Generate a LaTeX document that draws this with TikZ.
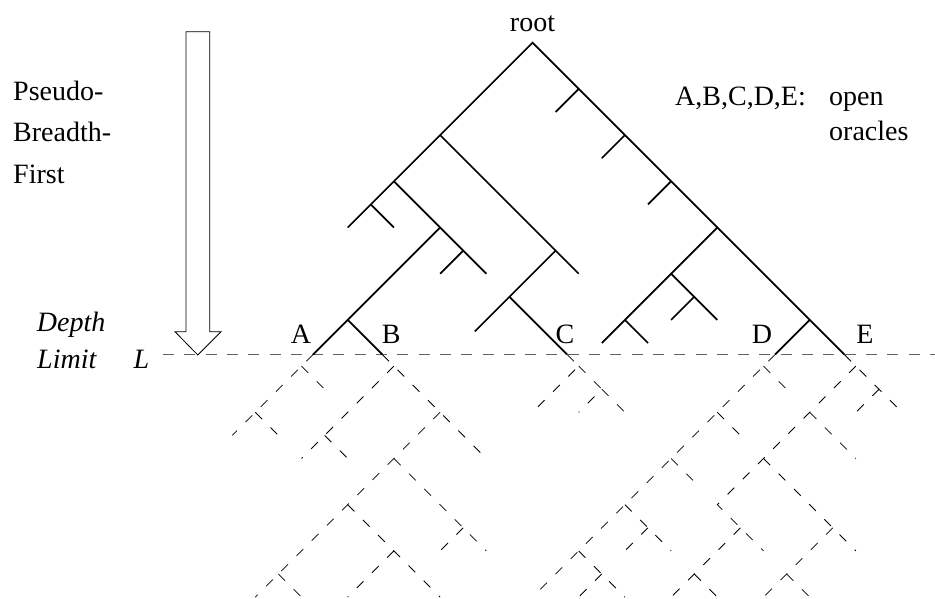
\documentclass[tikz,border=0pt]{standalone}
\usepackage{fontspec}
\setmainfont{Liberation Serif}
\begin{document}
\begin{tikzpicture}[
  txt/.style={inner sep=0pt, anchor=base west, font=\fontsize{28}{34}\selectfont},
  lbl/.style={inner sep=0pt, anchor=base, font=\fontsize{28}{34}\selectfont},
  solidbr/.style={line width=1.7pt, line cap=butt, line join=miter},
  dashbr/.style={line width=0.8pt, dash pattern=on 9.5pt off 12pt},
  limitline/.style={line width=1.6pt, black!62, dash pattern=on 11pt off 10.3pt},
  bigarrow/.style={draw, line width=0.8pt, fill=white, line join=miter}
]
\useasboundingbox (0,0) rectangle (935pt,-599pt);

% depth limit line
\coordinate (limL) at (163pt,-354.5pt);
\coordinate (limR) at (935pt,-354.5pt);
\draw[limitline] (limL) -- (limR);

% big arrow
\draw[bigarrow] (186pt,-31.7pt) -- (209.7pt,-31.7pt) -- (209.7pt,-331.7pt) -- (221pt,-331.7pt)
  -- (197.8pt,-355pt) -- (175pt,-331.7pt) -- (186pt,-331.7pt) -- cycle;

% texts
\node[txt] (t1) at (13pt,-101pt) {Pseudo-};
\node[txt] (t2) at (13pt,-142pt) {Breadth-};
\node[txt] (t3) at (13pt,-183pt) {First};
\node[txt] (d1) at (36.7pt,-331.7pt) {\itshape Depth};
\node[txt] (d2) at (37pt,-368.3pt) {\itshape Limit};
\node[txt] (Lsym) at (133.3pt,-368.3pt) {\itshape L};
\node[lbl] (root) at (532.5pt,-31.7pt) {root};
\node[txt] (legend) at (675pt,-106pt) {A,B,C,D,E:};
\node[txt] (open) at (829pt,-106pt) {open};
\node[txt] (orac) at (829pt,-141pt) {oracles};
\node[lbl] (A) at (301pt,-343pt) {A};
\node[lbl] (B) at (391.3pt,-343pt) {B};
\node[lbl] (C) at (565pt,-343pt) {C};
\node[lbl] (D) at (762pt,-343pt) {D};
\node[lbl] (E) at (865pt,-343pt) {E};

\begin{scope}[shift={(532.5pt,-42.7pt)}, x=23.1pt, y=-23.1pt]
% solid part of the tree
\draw[solidbr] (-8,8) -- (0,0) -- (13.5,13.5);
\draw[solidbr] (-7,7) -- (-6,8);
\draw[solidbr] (-6,6) -- (-2,10);
\draw[solidbr] (-3,9) -- (-4,10);
\draw[solidbr] (-4,8) -- (-9.5,13.5);
\draw[solidbr] (-8,12) -- (-6.5,13.5);
\draw[solidbr] (-4,4) -- (2,10);
\draw[solidbr] (1,9) -- (-2.5,12.5);
\draw[solidbr] (-1,11) -- (1.5,13.5);
\draw[solidbr] (2,2) -- (1,3);
\draw[solidbr] (4,4) -- (3,5);
\draw[solidbr] (6,6) -- (5,7);
\draw[solidbr] (8,8) -- (3,13);
\draw[solidbr] (6,10) -- (8,12);
\draw[solidbr] (7,11) -- (6,12);
\draw[solidbr] (4,12) -- (5,13);
\draw[solidbr] (12,12) -- (10.5,13.5);

% dashed subtrees below A
\draw[dashbr] (-9.5,13.5) -- (-10,14) -- (-12,16) -- (-13,17);
\draw[dashbr] (-10,14) -- (-9,15);
\draw[dashbr] (-12,16) -- (-11,17);
% below B
\draw[dashbr] (-6.5,13.5) -- (-6,14) -- (-4,16) -- (-2,18);
\draw[dashbr] (-6,14) -- (-9,17) -- (-10,18);
\draw[dashbr] (-9,17) -- (-8,18);
\draw[dashbr] (-4,16) -- (-6,18) -- (-8,20) -- (-11,23) -- (-12,24);
\draw[dashbr] (-11,23) -- (-10,24);
\draw[dashbr] (-6,18) -- (-3,21) -- (-2,22);
\draw[dashbr] (-3,21) -- (-4,22);
\draw[dashbr] (-8,20) -- (-6,22) -- (-4,24);
\draw[dashbr] (-6,22) -- (-8,24);
% below C
\draw[dashbr] (1.5,13.5) -- (2,14) -- (0,16);
\draw[dashbr] (2,14) -- (3,15) -- (2,16);
\draw[dashbr] (3,15) -- (4,16);
% below D
\draw[dashbr] (10.5,13.5) -- (10,14) -- (0,24);
\draw[dashbr] (10,14) -- (11,15);
\draw[dashbr] (8,16) -- (9,17);
\draw[dashbr] (6,18) -- (7,19);
\draw[dashbr] (4,20) -- (5,21) -- (6,22);
\draw[dashbr] (5,21) -- (4,22);
\draw[dashbr] (2,22) -- (3,23) -- (4,24);
\draw[dashbr] (3,23) -- (2,24);
% below E
\draw[dashbr] (13.5,13.5) -- (14,14) -- (15,15) -- (16,16);
\draw[dashbr] (15,15) -- (14,16);
\draw[dashbr] (14,14) -- (12,16) -- (10,18) -- (8,20) -- (9,21) -- (10,22);
\draw[dashbr] (12,16) -- (14,18);
\draw[dashbr] (10,18) -- (13,21) -- (14,22);
\draw[dashbr] (13,21) -- (11,23) -- (10,24);
\draw[dashbr] (11,23) -- (12,24);
\draw[dashbr] (9,21) -- (8,22) -- (7,23) -- (6,24);
\draw[dashbr] (7,23) -- (8,24);
\end{scope}
\end{tikzpicture}
\end{document}
